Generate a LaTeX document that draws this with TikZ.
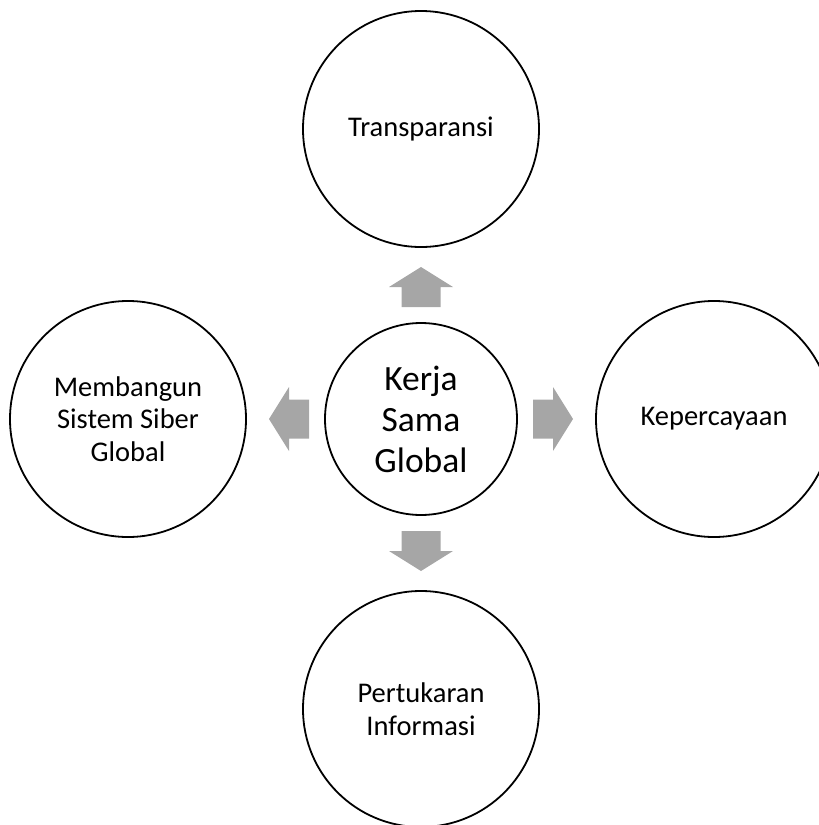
\documentclass[tikz,border=0pt]{standalone}
\usepackage{fontspec}
\setmainfont{Carlito}
\definecolor{arrowgray}{HTML}{A6A6A6}
\begin{document}
\begin{tikzpicture}[x=1pt,y=1pt,
  outer/.style={circle, draw=black, line width=1.8pt, fill=white, minimum size=236pt, inner sep=0pt, align=center,
    font=\fontsize{28.5}{32.5}\selectfont},
  hub/.style={circle, draw=black, line width=1.8pt, fill=white, minimum size=192pt, inner sep=0pt, align=center,
    font=\fontsize{35.5}{41}\selectfont},
  blockarr/.pic={\fill[arrowgray] (0,-19.5) -- (20,-19.5) -- (20,-32) -- (40,0) -- (20,32) -- (20,19.5) -- (0,19.5) -- cycle;}
]
\useasboundingbox (0,0) rectangle (819,-825);
\clip (0,0) rectangle (819,-825);
\node[hub] (c) at (421,-419) {Kerja\\Sama\\Global};
\node[outer] (t) at (421,-129) {Transparansi};
\node[outer] (l) at (128,-419) {Membangun\\Sistem Siber\\Global};
\node[outer] (r) at (714,-419) {Kepercayaan};
\node[outer] (b) at (421,-709) {Pertukaran\\Informasi};
\path (c.center) ++(0,112) pic[rotate=90] {blockarr};
\path (c.center) ++(-112,0) pic[rotate=180] {blockarr};
\path (c.center) ++(112,0) pic {blockarr};
\path (c.center) ++(0,-112) pic[rotate=-90] {blockarr};
\end{tikzpicture}
\end{document}
